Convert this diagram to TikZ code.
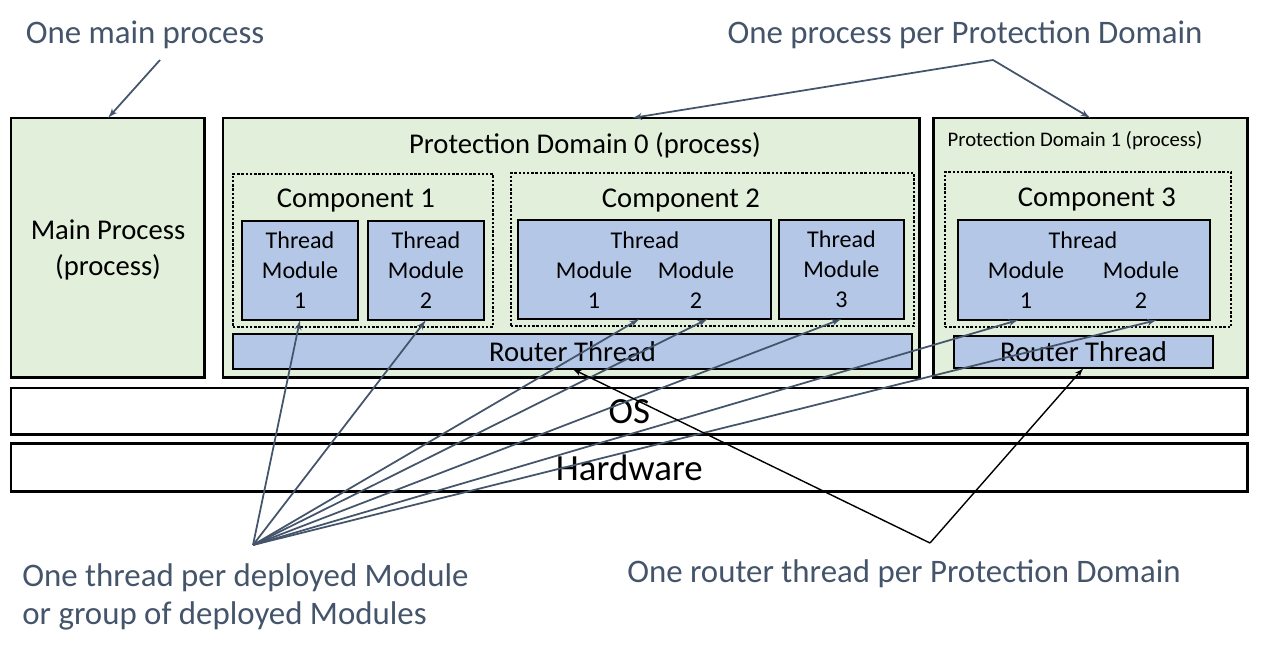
\documentclass[tikz,border=0pt]{standalone}
\usepackage{fontspec}
\setmainfont{Carlito}
\usetikzlibrary{positioning}
\usetikzlibrary{arrows,calc}
\definecolor{pdgreen}{HTML}{E2EFDA}
\definecolor{thblue}{HTML}{B4C7E7}
\definecolor{notegray}{HTML}{44546A}
\tikzset{line/.style={draw, notegray, line width=1pt, -latex'}}

\begin{document}
\begin{tikzpicture}[x=0.02cm, y=-0.02cm]
\tikzstyle{process} = [rectangle, draw, line width=1.7pt, fill=pdgreen, anchor=north west, inner sep=0pt, outer sep=0pt, align=center, font=\fontsize{16.3}{20}\selectfont]
\tikzstyle{comp} = [rectangle, draw, line width=1.4pt, dash pattern=on 1.4pt off 1pt, anchor=north west, inner sep=0pt, outer sep=0pt]
\tikzstyle{thread} = [rectangle, draw, line width=0.8pt, fill=thblue, anchor=north west, inner sep=0pt, outer sep=0pt, align=center, font=\fontsize{13.7}{17}\selectfont]
\tikzstyle{router} = [thread, font=\fontsize{16.3}{20}\selectfont]
\tikzstyle{layer} = [rectangle, draw, line width=1.7pt, anchor=north west, inner sep=0pt, outer sep=0pt, font=\fontsize{21}{25}\selectfont]
\tikzstyle{title} = [inner sep=0pt, font=\fontsize{16.3}{20}\selectfont]
\tikzstyle{words} = [inner sep=0pt, align=center, font=\fontsize{13.7}{17}\selectfont]
\tikzstyle{note} = [inner sep=0pt, text=notegray, font=\fontsize{18.7}{21.6}\selectfont]

\useasboundingbox (0,0) rectangle (1275,655);

% processes
    \node [process, minimum width=3.88cm, minimum height=5.2cm] (main) at (11,118) {};
    \node [title, align=center] (main title) at (108,250) {Main Process\\(process)};
    \node [process, minimum width=13.94cm, minimum height=5.2cm] (pd0) at (223,118) {};
    \node [process, minimum width=6.3cm, minimum height=5.2cm] (pd1) at (933,118) {};
    \node [title] (pd0 title) at (585,145) {Protection Domain 0 (process)};
    \node [title, font=\fontsize{11.8}{14}\selectfont] (pd1 title) at (1075,141) {Protection Domain 1 (process)};
    % component 1
    \node [comp, minimum width=5.2cm, minimum height=3.06cm] (comp1) at (233,174) {};
    \node [title] (comp1 title) at (356,201) {Component 1};
    \node [thread, minimum width=2.32cm, minimum height=1.98cm] (tm1) at (242,221) {Thread\\Module\\1};
    \node [thread, minimum width=2.32cm, minimum height=1.98cm, right=0.2cm of tm1] (tm2) {Thread\\Module\\2};
    % component 2
    \node [comp, minimum width=8.06cm, minimum height=3.06cm] (comp2) at (511,173) {};
    \node [title] (comp2 title) at (681,201) {Component 2};
    \node [thread, minimum width=5.06cm, minimum height=1.98cm] (tm12) at (518,220) {};
    \node [words] (tm12 thread) at (645,240) {Thread};
    \node [words] (tm12 a) at (594,285) {Module\\1};
    \node [words] (tm12 b) at (696,285) {Module\\2};
    \node [thread, minimum width=2.5cm, minimum height=1.98cm, right=0.16cm of tm12] (tm3) {Thread\\Module\\3};
    \node [router, minimum width=13.58cm, minimum height=0.7cm] (router0) at (233,334) {Router Thread};
    % component 3
    \node [comp, minimum width=5.72cm, minimum height=3.1cm] (comp3) at (945,172) {};
    \node [title] (comp3 title) at (1097,200) {Component 3};
    \node [thread, minimum width=5.04cm, minimum height=2cm] (tm34) at (958,220) {};
    \node [words] (tm34 thread) at (1083,240) {Thread};
    \node [words] (tm34 a) at (1026,285) {Module\\1};
    \node [words] (tm34 b) at (1141,285) {Module\\2};
    \node [router, minimum width=5.18cm, minimum height=0.64cm] (router1) at (954,336) {Router Thread};
    % layers
    \node [layer, minimum width=24.74cm, minimum height=0.94cm] (os) at (11,388) {OS};
    \node [layer, minimum width=24.74cm, minimum height=0.96cm, below=0.18cm of os.south west, anchor=north west] (hw) {Hardware};
% notes
    \node [note] (main note) at (145,35) {One main process};
    \node [note] (pd note) at (965,35) {One process per Protection Domain};
    \node [note, align=left, anchor=west] (thread note) at (22,597) {One thread per deployed Module\\or group of deployed Modules};
    \node [note] (router note) at (904,574) {One router thread per Protection Domain};
    \coordinate (main from) at (160,60);
    \coordinate (pd from) at (993,60);
    \coordinate (thread from) at (253,545);
    \coordinate (router from) at (930,543);
% arrows
    \path [line] (main from) -- (main.north);
    \path [line] (pd from) -- ($(pd0.north west)!0.587!(pd0.north east)$);
    \path [line] (pd from) -- (pd1.north);
    % threads
    \path [line] (thread from) -- (tm1.south);
    \path [line] (thread from) -- (tm2.south);
    \path [line] (thread from) -- ($(tm12.south west)!0.48!(tm12.south east)$);
    \path [line] (thread from) -- ($(tm12.south west)!0.75!(tm12.south east)$);
    \path [line] (thread from) -- (tm3.south);
    \path [line] (thread from) -- ($(tm34.south west)!0.24!(tm34.south east)$);
    \path [line] (thread from) -- ($(tm34.south west)!0.79!(tm34.south east)$);
    % routers
    \path [line, black, line width=0.8pt] (router from) -- (router0.south);
    \path [line, black, line width=0.8pt] (router from) -- (router1.south);
\end{tikzpicture}
\end{document}
